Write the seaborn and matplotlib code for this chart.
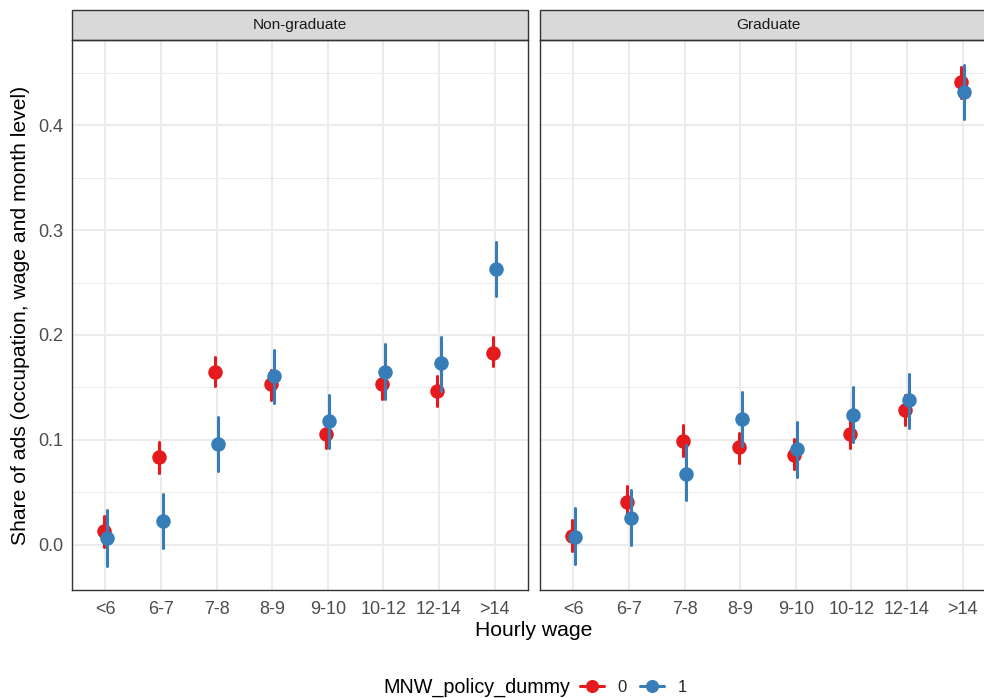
import numpy as np
import pandas as pd
import matplotlib
matplotlib.use("Agg")
import matplotlib.pyplot as plt
from matplotlib.patches import Rectangle
from matplotlib.lines import Line2D
from matplotlib.ticker import MultipleLocator, FormatStrFormatter
import seaborn as sns

sns.set_style("white")
plt.rcParams["font.family"] = ["Liberation Sans", "DejaVu Sans"]

# ---- data -------------------------------------------------------------
wage_bins = ["<6", "6-7", "7-8", "8-9", "9-10", "10-12", "12-14", ">14"]
panels = ["Non-graduate", "Graduate"]
policy_levels = ["0", "1"]

# Non-graduate, MNW_policy_dummy = 0
nongrad_0_est = [0.013, 0.084, 0.165, 0.153, 0.106, 0.153, 0.147, 0.183]
nongrad_0_lo = [-0.002, 0.069, 0.151, 0.138, 0.092, 0.139, 0.132, 0.170]
nongrad_0_hi = [0.028, 0.098, 0.179, 0.167, 0.120, 0.167, 0.161, 0.198]
# Non-graduate, MNW_policy_dummy = 1
nongrad_1_est = [0.007, 0.023, 0.096, 0.161, 0.118, 0.165, 0.173, 0.263]
nongrad_1_lo = [-0.020, -0.003, 0.070, 0.135, 0.092, 0.139, 0.147, 0.237]
nongrad_1_hi = [0.033, 0.049, 0.122, 0.186, 0.143, 0.191, 0.198, 0.289]
# Graduate, MNW_policy_dummy = 0
grad_0_est = [0.009, 0.041, 0.099, 0.093, 0.086, 0.106, 0.129, 0.441]
grad_0_lo = [-0.006, 0.027, 0.085, 0.078, 0.072, 0.092, 0.114, 0.426]
grad_0_hi = [0.024, 0.056, 0.114, 0.107, 0.101, 0.121, 0.143, 0.455]
# Graduate, MNW_policy_dummy = 1
grad_1_est = [0.008, 0.026, 0.068, 0.120, 0.091, 0.124, 0.138, 0.431]
grad_1_lo = [-0.018, 0.000, 0.043, 0.094, 0.065, 0.098, 0.111, 0.406]
grad_1_hi = [0.035, 0.052, 0.095, 0.146, 0.117, 0.150, 0.163, 0.457]

series = {
    ("Non-graduate", "0"): (nongrad_0_lo, nongrad_0_est, nongrad_0_hi),
    ("Non-graduate", "1"): (nongrad_1_lo, nongrad_1_est, nongrad_1_hi),
    ("Graduate", "0"): (grad_0_lo, grad_0_est, grad_0_hi),
    ("Graduate", "1"): (grad_1_lo, grad_1_est, grad_1_hi),
}

# Long table: each estimate is stored with its interval bounds, so the
# median gives the point and the full percentile range gives the error bar.
rows = []
for (panel, policy), (lo, est, hi) in series.items():
    for w, l, e, h in zip(wage_bins, lo, est, hi):
        for v in (l, e, h):
            rows.append({"education": panel, "wage": w,
                         "MNW_policy_dummy": policy, "share": v})
df = pd.DataFrame(rows)

palette = {"0": "#E41A1C", "1": "#377EB8"}

# ---- figure -----------------------------------------------------------
W, H = 984, 698
fig = plt.figure(figsize=(W / 100, H / 100), dpi=100)


def box(x0, y0, x1, y1):
    return [x0 / W, 1 - y1 / H, (x1 - x0) / W, (y1 - y0) / H]


axes = [fig.add_axes(box(72, 40, 528, 590)), fig.add_axes(box(540, 40, 996, 590))]
strip_h = 30 / 550

for i, (ax, panel) in enumerate(zip(axes, panels)):
    sub = df[df["education"] == panel]
    sns.pointplot(
        data=sub, x="wage", y="share", hue="MNW_policy_dummy",
        order=wage_bins, hue_order=policy_levels, palette=palette,
        estimator="median", errorbar=("pi", 100), dodge=0.055,
        linestyle="none", markers="o", markersize=8.4,
        err_kws={"linewidth": 2.2}, legend=False, ax=ax,
    )
    ax.set_xlim(-0.6, 7.6)
    ax.set_ylim(-0.0429, 0.481)
    ax.set_xlabel("")
    ax.set_ylabel("")
    ax.yaxis.set_major_locator(MultipleLocator(0.1))
    ax.yaxis.set_minor_locator(MultipleLocator(0.05))
    ax.yaxis.set_major_formatter(FormatStrFormatter("%.1f"))
    ax.set_axisbelow(True)
    ax.grid(which="major", color="#EBEBEB", linewidth=1.4)
    ax.grid(which="minor", axis="y", color="#EBEBEB", linewidth=0.7)
    ax.tick_params(which="major", length=3.5, width=1.0, color="#333333",
                   labelcolor="#4D4D4D", labelsize=13, pad=2.5)
    ax.tick_params(axis="x", which="major", pad=4.5)
    ax.tick_params(which="minor", length=0)
    for sp in ax.spines.values():
        sp.set_visible(True)
        sp.set_color("#333333")
        sp.set_linewidth(1.0)
    if i > 0:
        ax.tick_params(axis="y", left=False, labelleft=False)

    # facet strip
    ax.add_patch(Rectangle((0, 1), 1, strip_h, transform=ax.transAxes,
                           clip_on=False, facecolor="#D9D9D9",
                           edgecolor="#333333", linewidth=1.0))
    ax.text(0.5, 1 + strip_h / 2, panel, transform=ax.transAxes,
            ha="center", va="center", fontsize=11.1, color="#1A1A1A")

# axis titles
fig.text(534 / W, 1 - 631 / H, "Hourly wage", ha="center", va="center",
         fontsize=15.2, color="black")
fig.text(21 / W, 1 - 315 / H, "Share of ads (occupation, wage and month level)",
         ha="center", va="center", rotation=90, fontsize=15.2, color="black")

# legend at the bottom
fig.text(383 / W, 1 - 687 / H, "MNW_policy_dummy", ha="left", va="center",
         fontsize=14.2, color="black")
handles = [
    Line2D([], [], color=palette[k], marker="o", markersize=8.4, linewidth=2.2)
    for k in policy_levels
]
fig.legend(handles, policy_levels, loc="center left",
           bbox_to_anchor=(580 / W, 1 - 687 / H), ncol=2, frameon=False,
           fontsize=12, handlelength=1.45, handletextpad=0.8,
           columnspacing=0.8, borderaxespad=0, borderpad=0)

fig.savefig("out.png", dpi=100)
